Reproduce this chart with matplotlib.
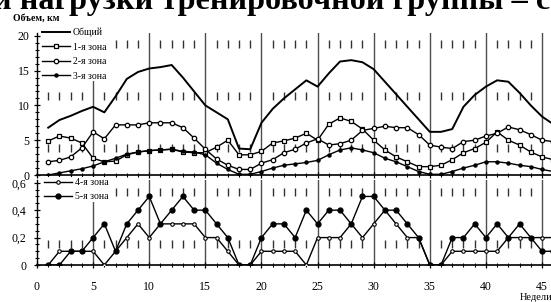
import matplotlib
matplotlib.use('Agg')
import matplotlib.pyplot as plt
from matplotlib.ticker import MultipleLocator, FuncFormatter

plt.rcParams['font.family'] = ['Liberation Serif', 'DejaVu Serif']
plt.rcParams['lines.scale_dashes'] = False

# недели и объёмы по зонам (км)
weeks = list(range(1, 47))
total = [6.8, 7.9, 8.5, 9.2, 9.8, 9.0, 11.3, 13.8, 14.8, 15.3, 15.5, 15.8, 14.0, 12.0, 10.0,
         9.0, 8.0, 3.8, 3.7, 7.5, 9.5, 11.0, 12.3, 13.6, 12.7, 14.6, 16.3, 16.5, 16.2, 15.2,
         13.4, 11.6, 9.8, 8.0, 6.2, 6.2, 6.6, 9.8, 11.5, 12.7, 13.6, 13.4, 11.8, 10.0, 8.4, 7.3]
zone1 = [4.9, 5.6, 5.3, 4.6, 2.4, 1.9, 2.0, 2.9, 3.3, 3.5, 3.6, 3.7, 3.3, 3.2, 3.2,
         4.0, 5.0, 2.9, 2.9, 3.4, 4.6, 4.9, 5.3, 6.0, 5.0, 7.3, 8.2, 7.7, 6.6, 5.0,
         3.6, 2.6, 1.9, 1.2, 1.2, 1.4, 2.2, 3.2, 3.8, 4.7, 6.2, 5.0, 4.3, 3.3, 2.6, 2.2]
zone2 = [1.9, 2.1, 2.6, 3.9, 6.2, 5.2, 7.2, 7.2, 7.2, 7.5, 7.5, 7.5, 6.8, 5.3, 3.7,
         2.3, 1.4, 0.8, 0.8, 1.7, 2.2, 3.2, 3.7, 4.6, 5.2, 4.3, 4.5, 5.0, 6.4, 6.7,
         7.0, 6.8, 6.8, 5.8, 4.3, 4.0, 3.8, 4.8, 5.0, 5.6, 6.0, 6.9, 6.5, 5.8, 5.0, 4.8]
zone3 = [0.0, 0.3, 0.6, 0.9, 1.3, 1.9, 2.4, 3.0, 3.3, 3.5, 3.6, 3.7, 3.4, 3.3, 2.9,
         1.7, 0.8, 0.1, 0.1, 0.5, 1.0, 1.4, 1.6, 1.8, 2.1, 2.9, 3.6, 3.9, 3.6, 3.2,
         2.4, 1.9, 1.2, 0.5, 0.1, 0.1, 0.5, 1.0, 1.4, 1.9, 1.9, 1.7, 1.4, 1.2, 0.8, 0.5]
zone4 = [0, 0.1, 0.1, 0.1, 0.1, 0, 0.1, 0.2, 0.3, 0.2, 0.3, 0.3, 0.3, 0.3, 0.2,
         0.2, 0.1, 0, 0, 0.1, 0.1, 0.1, 0.1, 0, 0.2, 0.2, 0.2, 0.3, 0.2, 0.3,
         0.4, 0.3, 0.2, 0.2, 0, 0, 0.1, 0.1, 0.1, 0.1, 0.1, 0.2, 0.2, 0.2, 0.2, 0.2]
zone5 = [0, 0, 0.1, 0.1, 0.2, 0.3, 0.1, 0.3, 0.4, 0.5, 0.3, 0.4, 0.5, 0.4, 0.4,
         0.3, 0.2, 0, 0, 0.2, 0.3, 0.3, 0.2, 0.4, 0.3, 0.4, 0.4, 0.3, 0.5, 0.5,
         0.4, 0.4, 0.3, 0.2, 0, 0, 0.2, 0.2, 0.3, 0.2, 0.3, 0.2, 0.3, 0.2, 0.1, 0.1]

W, H = 551, 302
fig = plt.figure(figsize=(W / 100, H / 100), dpi=100)


def box(x0, y0, x1, y1):
    # пиксели -> доли фигуры
    return [x0 / W, 1 - y1 / H, (x1 - x0) / W, (y1 - y0) / H]


ax1 = fig.add_axes(box(37, 33, 551, 175))
ax2 = fig.add_axes(box(37, 180, 551, 265))

px = 0.72  # пункты на пиксель


def grid(ax, offset):
    for w in range(1, 47):
        if w % 5 == 0:
            ax.axvline(w, color='0.3', lw=1.0, zorder=1)
        else:
            ax.axvline(w, color='0.2', lw=1.0, zorder=1,
                       linestyle=(offset * px, (8 * px, 44 * px)))


grid(ax1, 29)
grid(ax2, 35)

ax1.plot(weeks, total, color='black', lw=1.4, label='Общий', zorder=3)
ax1.plot(weeks, zone1, color='black', lw=1.0, marker='s', ms=3, mfc='white', mec='black',
         mew=0.9, label='1-я зона', zorder=3)
ax1.plot(weeks, zone2, color='black', lw=1.0, marker='o', ms=3.2, mfc='white', mec='black',
         mew=0.9, label='2-я зона', zorder=3)
ax1.plot(weeks, zone3, color='black', lw=1.0, marker='o', ms=2.2, label='3-я зона', zorder=3)

ax2.plot(weeks, zone4, color='black', lw=1.0, marker='o', ms=2.5, mfc='white', mec='black',
         mew=0.8, label='4-я зона', zorder=3)
ax2.plot(weeks, zone5, color='black', lw=1.0, marker='o', ms=3.5, label='5-я зона', zorder=3)

for ax in (ax1, ax2):
    ax.set_xlim(0, 45.8)
    for s in ('top', 'right'):
        ax.spines[s].set_visible(False)
    ax.spines['left'].set_linewidth(1.0)
    ax.spines['bottom'].set_linewidth(1.2)
    ax.xaxis.set_major_locator(MultipleLocator(5))
    ax.xaxis.set_minor_locator(MultipleLocator(1))
    ax.tick_params(axis='both', which='major', direction='inout', length=5, width=0.9,
                   labelsize=8.5, color='black')
    ax.tick_params(axis='both', which='minor', direction='inout', length=3, width=0.8)

ax1.set_ylim(0, 20.4)
ax1.yaxis.set_major_locator(MultipleLocator(5))
ax1.yaxis.set_minor_locator(MultipleLocator(1))
ax1.tick_params(axis='x', which='both', labelbottom=False)
ax1.tick_params(axis='y', pad=3)

ax2.set_ylim(0, 0.62)
ax2.yaxis.set_major_locator(MultipleLocator(0.2))
ax2.yaxis.set_minor_locator(MultipleLocator(0.05))
ax2.yaxis.set_major_formatter(FuncFormatter(
    lambda v, p: ('%.1f' % v).replace('.', ',') if abs(v) > 1e-9 else '0'))
ax2.tick_params(axis='x', pad=9)
ax2.tick_params(axis='y', pad=5)

leg_kw = dict(loc='upper left', fontsize=7, handlelength=2.9, handletextpad=0.25,
              labelspacing=0.55, borderpad=0.1, borderaxespad=0, frameon=True,
              facecolor='white', edgecolor='none', framealpha=1, fancybox=False)
l1 = ax1.legend(bbox_to_anchor=(41 / W, 1 - 27 / H), bbox_transform=fig.transFigure, **leg_kw)
l2 = ax2.legend(bbox_to_anchor=(43 / W, 1 - 177 / H), bbox_transform=fig.transFigure, **leg_kw)
l1.set_zorder(5)
l2.set_zorder(5)

fig.text(-7 / W, 1 - 9 / H, 'и нагрузки тренировочной группы – с', fontsize=23.2,
         fontweight='bold', ha='left', va='baseline')
fig.text(13 / W, 1 - 18 / H, 'Объем, км', fontsize=7, fontweight='bold', ha='left',
         va='center')
fig.text(520 / W, 1 - 297 / H, 'Недели', fontsize=7.5, ha='left', va='center')

fig.savefig('out.png', dpi=100)
